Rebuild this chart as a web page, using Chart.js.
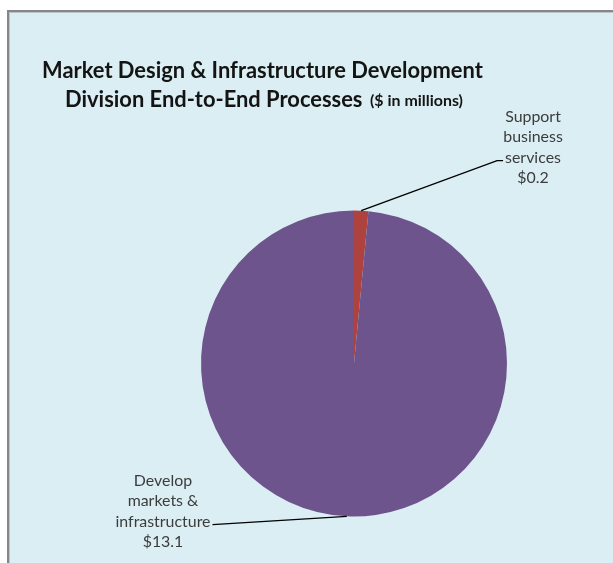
<!DOCTYPE html>
<html>
<head>
<meta charset="utf-8">
<script src="https://cdn.jsdelivr.net/npm/chart.js@4"></script>
<style>
  html, body { margin: 0; padding: 0; background: #ffffff; }
  canvas { display: block; }
</style>
</head>
<body>
<canvas id="pie" width="613" height="563"></canvas>
<script>
// Division spend by end-to-end process ($ in millions)
const categories = ['Support business services', 'Develop markets & infrastructure'];
const categoryLines = [['Support', 'business', 'services'], ['Develop', 'markets &', 'infrastructure']];
const values = [0.2, 13.1];
const sliceColors = ['#ad423f', '#6e548c'];

const titleLine1 = 'Market Design & Infrastructure Development';
const titleLine2 = 'Division End-to-End Processes';
const titleUnits = '($ in millions)';

// where each slice's text block sits (centre x, first baseline) and where its leader ends
const labelLayout = [
    { cx: 533, y: 122, lineGap: 20.3, tailLine: 2, side: 'left' },
    { cx: 163, y: 486, lineGap: 20.3, tailLine: 2, side: 'right' }
];

// pick a font size so the text spans the given width
function fitFont(ctx, text, weight, family, width) {
    ctx.font = `${weight} 20px ${family}`;
    const size = 20 * width / ctx.measureText(text).width;
    return `${weight} ${size.toFixed(2)}px ${family}`;
}

const panelPlugin = {
    id: 'panel',
    beforeDraw(chart) {
        const ctx = chart.ctx;
        ctx.save();
        ctx.fillStyle = '#ffffff';
        ctx.fillRect(0, 0, chart.width, chart.height);
        ctx.fillStyle = '#dbeef4';
        ctx.fillRect(7, 10, chart.width, chart.height);
        ctx.fillStyle = '#868686';
        ctx.fillRect(7, 10, 2, chart.height);
        ctx.fillRect(7, 10, chart.width, 2);
        ctx.fillStyle = '#b9c4c8';
        ctx.fillRect(9, 12, 1, chart.height);
        ctx.fillRect(9, 12, chart.width, 1);
        ctx.restore();
    },
    afterDraw(chart) {
        const ctx = chart.ctx;
        ctx.save();

        // title
        const fam = 'Lato, "Open Sans", sans-serif';
        const titleFont = fitFont(ctx, titleLine1, 'bold', fam, 441);
        ctx.fillStyle = '#141414';
        ctx.textBaseline = 'alphabetic';
        ctx.textAlign = 'left';
        ctx.font = titleFont;
        ctx.fillText(titleLine1, 42, 78);
        ctx.fillText(titleLine2, 65, 107);
        ctx.font = fitFont(ctx, titleUnits, 'bold', fam, 93);
        ctx.fillText(titleUnits, 370, 106);

        // slice labels with leader lines
        const arcs = chart.getDatasetMeta(0).data;
        const labelFont = fitFont(ctx, 'infrastructure', 'normal', fam, 95);
        arcs.forEach((arc, i) => {
            const lay = labelLayout[i];
            const lines = categoryLines[i].concat('$' + values[i].toFixed(1));
            ctx.font = labelFont;
            ctx.fillStyle = '#3c3c3c';
            ctx.textAlign = 'center';
            lines.forEach((t, k) => ctx.fillText(t, lay.cx, lay.y + k * lay.lineGap));

            const mid = (arc.startAngle + arc.endAngle) / 2;
            const ax = arc.x + Math.cos(mid) * arc.outerRadius;
            const ay = arc.y + Math.sin(mid) * arc.outerRadius;
            const tail = lines[lay.tailLine];
            const tw = ctx.measureText(tail).width;
            const ty = lay.y + lay.tailLine * lay.lineGap - 2;
            const tx = lay.side === 'left' ? lay.cx - tw / 2 - 2 : lay.cx + tw / 2 + 2;
            ctx.strokeStyle = '#000000';
            ctx.lineWidth = 1.4;
            ctx.beginPath();
            ctx.moveTo(ax, ay);
            if (lay.side === 'left') {
                ctx.lineTo(tx - 6, ty);
            }
            ctx.lineTo(tx, ty);
            ctx.stroke();
        });
        ctx.restore();
    }
};

new Chart(document.getElementById('pie'), {
    type: 'pie',
    data: {
        labels: categories,
        datasets: [{
            data: values,
            backgroundColor: sliceColors,
            borderWidth: 0
        }]
    },
    options: {
        responsive: false,
        animation: false,
        layout: { padding: { left: 201, right: 106, top: 210, bottom: 46 } },
        plugins: {
            legend: { display: false },
            tooltip: { enabled: false },
            title: { display: false }
        }
    },
    plugins: [panelPlugin]
});
</script>
</body>
</html>
